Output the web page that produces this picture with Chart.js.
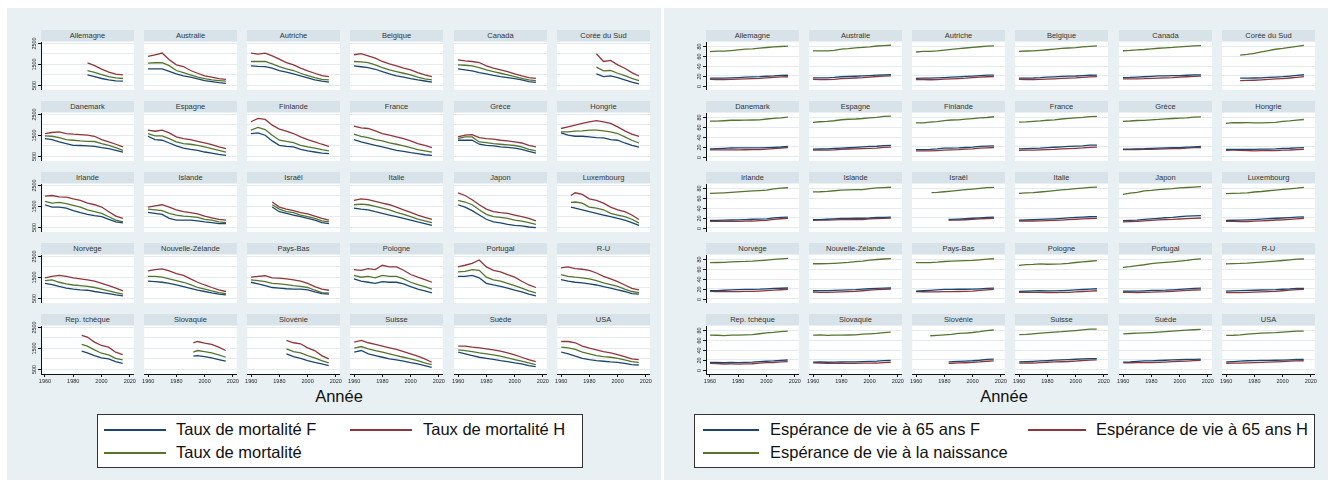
<!DOCTYPE html>
<html>
<head>
<meta charset="utf-8">
<script src="https://cdn.jsdelivr.net/npm/chart.js@4.4.1/dist/chart.umd.min.js"></script>
<style>
  html, body { margin: 0; padding: 0; background: #ffffff; width: 1335px; height: 485px; overflow: hidden;
    font-family: "Liberation Sans", Arial, Helvetica, sans-serif; }
  .bg { position: absolute; background: #e9f0f3; }
  .strip { position: absolute; background: #d8e3e9; color: #333; font-size: 7.5px; text-align: center;
    line-height: 11px; height: 11px; white-space: nowrap; overflow: hidden; }
  canvas { position: absolute; }
  .xtitle { position: absolute; font-size: 16.5px; line-height: 19px; color: #111; transform: translateX(-50%); white-space: nowrap; }
  .legend { position: absolute; background: #ffffff; border: 1px solid #333; box-sizing: border-box; }
  .key { position: absolute; height: 1.5px; }
  .lab { position: absolute; font-size: 16.5px; line-height: 19px; color: #111; white-space: nowrap; }
</style>
</head>
<body>
<script>
// ---------------------------------------------------------------------------
// Data: one small-multiple per country, values every five years (first value
// of a series sits at its start year when the series begins late).
// ---------------------------------------------------------------------------
const COUNTRIES = ['Allemagne', 'Australie', 'Autriche', 'Belgique', 'Canada', 'Corée du Sud',
  'Danemark', 'Espagne', 'Finlande', 'France', 'Grèce', 'Hongrie',
  'Irlande', 'Islande', 'Israël', 'Italie', 'Japon', 'Luxembourg',
  'Norvège', 'Nouvelle-Zélande', 'Pays-Bas', 'Pologne', 'Portugal', 'R-U',
  'Rep. tchèque', 'Slovaquie', 'Slovénie', 'Suisse', 'Suède', 'USA'];

const YEARS = [1960, 1965, 1970, 1975, 1980, 1985, 1990, 1995, 2000, 2005, 2010, 2015];
const X_TICKS = [1960, 1980, 2000, 2020];
const MORT_TICKS = [500, 1500, 2500];
const MORT_GRID = [500, 1000, 1500, 2000, 2500];
const LE_TICKS = [0, 20, 40, 60, 80];

// Mortality rates (per 100 000)
const MORT_START = [1990, 1960, 1960, 1960, 1960, 1985,
  1960, 1960, 1960, 1960, 1960, 1960,
  1960, 1960, 1975, 1960, 1960, 1967,
  1960, 1960, 1960, 1960, 1960, 1960,
  1986, 1992, 1985, 1960, 1960, 1960];

const MORT_F = [
  [980, 900, 810, 740, 700, 680],
  [1270, 1270, 1270, 1150, 1030, 930, 870, 790, 710, 660, 610, 580],
  [1410, 1390, 1380, 1300, 1190, 1110, 1030, 930, 840, 740, 680, 640],
  [1410, 1370, 1330, 1250, 1140, 1030, 930, 870, 800, 740, 690, 640],
  [1270, 1220, 1170, 1090, 1030, 960, 900, 850, 800, 740, 660, 630],
  [1030, 900, 930, 850, 740, 640, 550],
  [1330, 1280, 1170, 1090, 1010, 1000, 980, 960, 900, 850, 770, 680],
  [1440, 1280, 1250, 1120, 980, 880, 820, 770, 690, 640, 580, 530],
  [1570, 1600, 1490, 1220, 1010, 960, 930, 820, 740, 690, 640, 610],
  [1280, 1170, 1090, 1010, 930, 850, 770, 720, 660, 610, 560, 530],
  [1250, 1250, 1250, 1060, 1010, 980, 930, 910, 880, 820, 720, 640],
  [1600, 1490, 1440, 1440, 1410, 1380, 1360, 1280, 1250, 1120, 1010, 920],
  [1560, 1450, 1450, 1400, 1280, 1180, 1100, 1040, 990, 860, 740, 700],
  [1200, 1150, 1100, 910, 830, 830, 830, 790, 740, 710, 660, 660],
  [1450, 1230, 1150, 1070, 990, 910, 830, 710, 660],
  [1400, 1350, 1320, 1230, 1150, 1070, 990, 910, 830, 740, 660, 580],
  [1560, 1450, 1280, 1070, 870, 740, 700, 630, 580, 550, 500, 470],
  [1450, 1400, 1320, 1230, 1150, 1070, 990, 910, 830, 710, 580],
  [1200, 1140, 1050, 970, 920, 890, 870, 810, 760, 710, 650, 600],
  [1300, 1280, 1250, 1200, 1120, 1040, 960, 870, 810, 740, 680, 650],
  [1250, 1170, 1090, 1000, 970, 940, 920, 920, 890, 790, 710, 680],
  [1410, 1300, 1250, 1200, 1280, 1250, 1250, 1170, 1040, 920, 840, 740],
  [1530, 1530, 1580, 1460, 1200, 1120, 1050, 970, 870, 790, 680, 600],
  [1380, 1300, 1250, 1220, 1170, 1120, 1040, 970, 890, 810, 710, 680],
  [1350, 1270, 1140, 1030, 980, 850, 770],
  [1110, 1140, 1090, 1030, 950, 870],
  [1220, 1090, 1010, 900, 820, 740, 660],
  [1300, 1380, 1220, 1140, 1060, 980, 930, 870, 800, 740, 660, 580],
  [1300, 1220, 1140, 1060, 1010, 960, 900, 850, 790, 740, 660, 610],
  [1300, 1220, 1110, 1010, 950, 900, 870, 840, 820, 770, 710, 690]
];

const MORT_H = [
  [1550, 1420, 1260, 1110, 1020, 980],
  [1860, 1940, 2020, 1700, 1460, 1380, 1190, 1060, 930, 870, 800, 770],
  [2020, 1970, 2020, 1890, 1730, 1570, 1460, 1300, 1170, 1060, 950, 900],
  [1940, 1990, 1890, 1780, 1620, 1510, 1410, 1300, 1220, 1090, 980, 900],
  [1700, 1650, 1620, 1570, 1410, 1300, 1220, 1140, 1030, 930, 850, 820],
  [1990, 1620, 1670, 1460, 1300, 1090, 930],
  [1570, 1620, 1650, 1570, 1540, 1520, 1490, 1440, 1280, 1170, 1060, 930],
  [1730, 1680, 1730, 1600, 1410, 1330, 1280, 1200, 1120, 1040, 930, 850],
  [2130, 2290, 2240, 1970, 1780, 1680, 1570, 1410, 1280, 1170, 1060, 960],
  [1920, 1840, 1810, 1700, 1570, 1490, 1410, 1330, 1220, 1090, 1010, 900],
  [1410, 1490, 1520, 1380, 1330, 1300, 1250, 1220, 1170, 1120, 1010, 930],
  [1810, 1890, 1970, 2050, 2130, 2180, 2130, 2050, 1890, 1700, 1540, 1440],
  [1970, 2000, 1930, 1920, 1840, 1770, 1640, 1560, 1450, 1230, 1020, 910],
  [1450, 1510, 1560, 1450, 1320, 1230, 1180, 1120, 1020, 940, 860, 830],
  [1690, 1450, 1350, 1280, 1180, 1120, 1020, 910, 830],
  [1770, 1840, 1800, 1720, 1640, 1560, 1450, 1320, 1200, 1070, 960, 860],
  [2130, 2000, 1800, 1560, 1350, 1230, 1180, 1150, 1070, 990, 910, 790],
  [2000, 2130, 2050, 1840, 1770, 1640, 1450, 1320, 1230, 1070, 860],
  [1460, 1530, 1580, 1530, 1460, 1410, 1360, 1300, 1200, 1090, 970, 840],
  [1790, 1850, 1890, 1790, 1660, 1580, 1410, 1250, 1120, 1000, 890, 810],
  [1490, 1530, 1560, 1460, 1450, 1410, 1360, 1300, 1200, 1040, 920, 870],
  [1850, 1820, 1900, 1850, 2060, 1980, 1980, 1820, 1620, 1490, 1380, 1250],
  [1980, 2060, 2150, 2310, 1980, 1820, 1740, 1610, 1490, 1300, 1120, 1000],
  [1930, 1980, 1900, 1870, 1820, 1690, 1530, 1410, 1280, 1120, 960, 890],
  [2100, 2020, 1780, 1620, 1540, 1300, 1190],
  [1750, 1810, 1730, 1670, 1540, 1380],
  [1860, 1750, 1700, 1510, 1380, 1140, 980],
  [1780, 1860, 1750, 1670, 1590, 1510, 1430, 1330, 1220, 1110, 980, 820],
  [1590, 1590, 1540, 1510, 1460, 1410, 1350, 1270, 1170, 1060, 950, 850],
  [1810, 1810, 1750, 1590, 1490, 1410, 1330, 1270, 1190, 1090, 980, 950]
];

const MORT_T = [
  [1190, 1100, 990, 900, 840, 810],
  [1540, 1560, 1570, 1420, 1190, 1090, 980, 880, 800, 740, 710, 680],
  [1620, 1620, 1620, 1510, 1380, 1270, 1190, 1060, 950, 850, 770, 740],
  [1620, 1600, 1570, 1460, 1330, 1220, 1140, 1060, 980, 870, 790, 740],
  [1460, 1440, 1410, 1330, 1220, 1140, 1060, 980, 900, 820, 740, 710],
  [1350, 1170, 1190, 1060, 950, 820, 710],
  [1460, 1440, 1380, 1280, 1250, 1220, 1200, 1190, 1090, 1010, 900, 770],
  [1570, 1460, 1460, 1330, 1170, 1090, 1060, 1010, 930, 850, 770, 690],
  [1730, 1860, 1760, 1490, 1250, 1200, 1140, 1010, 930, 870, 800, 740],
  [1540, 1440, 1380, 1280, 1220, 1120, 1060, 980, 900, 800, 740, 680],
  [1330, 1410, 1410, 1170, 1140, 1090, 1060, 1030, 1000, 930, 820, 740],
  [1650, 1650, 1680, 1700, 1730, 1730, 1700, 1650, 1570, 1410, 1250, 1120],
  [1720, 1640, 1670, 1610, 1530, 1450, 1320, 1230, 1150, 990, 830, 740],
  [1350, 1320, 1280, 1150, 1070, 1020, 990, 960, 860, 830, 740, 710],
  [1560, 1350, 1230, 1180, 1070, 990, 910, 790, 740],
  [1560, 1590, 1560, 1480, 1400, 1320, 1200, 1100, 990, 870, 790, 710],
  [1770, 1690, 1560, 1320, 1100, 990, 960, 910, 830, 780, 710, 630],
  [1670, 1690, 1640, 1450, 1400, 1320, 1150, 1070, 990, 870, 700],
  [1330, 1360, 1250, 1170, 1120, 1090, 1050, 1000, 920, 840, 760, 680],
  [1530, 1530, 1490, 1410, 1330, 1250, 1140, 1000, 920, 840, 760, 710],
  [1360, 1330, 1280, 1200, 1170, 1140, 1090, 1050, 1000, 870, 760, 730],
  [1580, 1490, 1530, 1460, 1580, 1530, 1530, 1410, 1250, 1140, 1040, 920],
  [1740, 1770, 1850, 1820, 1490, 1360, 1300, 1200, 1090, 970, 840, 740],
  [1610, 1530, 1490, 1460, 1410, 1330, 1220, 1140, 1050, 920, 810, 760],
  [1670, 1590, 1410, 1250, 1170, 1010, 930],
  [1300, 1380, 1330, 1270, 1170, 1060],
  [1460, 1330, 1270, 1140, 1030, 900, 790],
  [1490, 1570, 1460, 1380, 1300, 1220, 1140, 1060, 980, 900, 790, 710],
  [1410, 1380, 1330, 1270, 1220, 1170, 1110, 1030, 950, 870, 790, 710],
  [1540, 1510, 1430, 1300, 1220, 1140, 1090, 1060, 1010, 930, 850, 820]
];

// Life expectancy (years)
const LE_BIRTH_START = [1960, 1960, 1960, 1960, 1960, 1970,
  1960, 1960, 1960, 1960, 1960, 1960,
  1960, 1960, 1971, 1960, 1960, 1960,
  1960, 1960, 1960, 1960, 1960, 1960,
  1960, 1960, 1970, 1960, 1960, 1960];
const LE_65_START = [1960, 1960, 1960, 1960, 1960, 1970,
  1960, 1960, 1960, 1960, 1960, 1960,
  1960, 1960, 1983, 1960, 1960, 1960,
  1960, 1960, 1960, 1960, 1960, 1960,
  1960, 1960, 1983, 1960, 1960, 1960];

const LE_F = [
  [15.0, 15.2, 15.3, 15.7, 16.3, 17.0, 17.7, 18.1, 19.0, 19.6, 20.6, 21.0],
  [15.7, 15.7, 15.7, 16.5, 18.0, 18.5, 19.0, 19.6, 20.4, 21.3, 21.9, 22.3],
  [14.7, 15.0, 15.0, 15.7, 16.3, 17.1, 17.8, 18.7, 19.4, 20.4, 21.1, 21.4],
  [15.0, 15.3, 15.4, 16.0, 17.0, 17.7, 18.6, 19.2, 19.5, 20.3, 21.0, 21.4],
  [16.1, 16.5, 17.3, 18.0, 18.9, 19.6, 19.9, 20.1, 20.4, 21.0, 21.7, 22.0],
  [15.0, 15.0, 15.4, 15.7, 16.5, 17.4, 18.2, 19.4, 20.8, 22.1],
  [15.6, 16.0, 16.7, 17.5, 17.6, 17.8, 17.8, 17.7, 18.3, 18.9, 19.5, 20.5],
  [15.3, 15.6, 15.7, 16.4, 17.1, 18.0, 18.8, 19.6, 20.6, 21.0, 22.4, 22.7],
  [14.0, 14.2, 14.5, 15.5, 17.0, 17.3, 17.7, 18.5, 19.3, 20.7, 21.3, 21.8],
  [15.6, 16.3, 16.8, 17.3, 18.3, 19.0, 19.9, 20.6, 21.4, 22.0, 23.2, 23.3],
  [15.2, 15.2, 15.8, 16.0, 16.8, 17.2, 17.7, 18.2, 18.4, 19.1, 19.8, 20.5],
  [14.5, 14.7, 14.6, 14.7, 14.6, 15.0, 15.3, 15.6, 16.5, 16.9, 17.8, 18.4],
  [14.5, 14.6, 15.0, 15.4, 15.6, 16.2, 16.9, 17.3, 17.9, 19.8, 20.9, 21.3],
  [16.0, 16.3, 16.9, 17.6, 18.6, 18.9, 19.0, 19.0, 19.5, 20.5, 20.7, 21.2],
  [16.5, 16.5, 17.3, 18.3, 19.0, 19.9, 20.8, 21.2],
  [15.3, 15.7, 16.0, 16.6, 17.1, 17.8, 18.8, 19.8, 20.7, 21.3, 22.1, 22.2],
  [14.1, 14.6, 15.3, 16.6, 17.7, 18.9, 20.0, 20.9, 22.4, 23.2, 23.8, 24.2],
  [14.6, 14.9, 15.1, 15.6, 16.3, 17.2, 18.1, 19.0, 19.5, 20.2, 21.1, 21.7],
  [15.9, 16.3, 16.9, 17.6, 18.3, 18.6, 18.8, 19.1, 19.8, 20.6, 21.0, 21.6],
  [15.9, 16.0, 16.1, 16.6, 17.2, 17.9, 18.3, 19.1, 20.0, 20.8, 21.4, 21.6],
  [15.3, 15.9, 16.6, 17.6, 18.6, 18.8, 19.0, 19.0, 19.1, 19.9, 20.9, 21.1],
  [14.6, 15.3, 15.6, 15.9, 15.8, 15.8, 16.1, 16.7, 17.6, 18.5, 19.3, 20.0],
  [15.2, 15.3, 15.1, 15.8, 16.6, 16.8, 17.0, 17.9, 18.7, 19.6, 20.7, 21.5],
  [15.1, 15.5, 16.0, 16.5, 16.9, 17.4, 17.9, 18.2, 19.0, 19.6, 20.8, 20.9],
  [14.7, 14.5, 14.1, 14.5, 14.3, 14.7, 15.2, 16.1, 16.9, 17.6, 18.8, 19.5],
  [15.3, 15.5, 14.9, 15.3, 15.4, 15.6, 15.8, 16.3, 16.6, 17.1, 18.2, 18.7],
  [15.8, 15.9, 16.7, 17.4, 18.0, 19.0, 20.6, 21.3],
  [15.5, 15.9, 16.6, 17.5, 18.4, 19.2, 19.7, 20.3, 21.0, 21.8, 22.5, 22.5],
  [15.3, 15.8, 16.8, 17.6, 17.9, 18.5, 19.0, 19.6, 20.0, 20.6, 20.9, 21.2],
  [15.8, 16.3, 17.0, 18.0, 18.3, 18.6, 18.9, 19.0, 19.2, 19.8, 20.5, 20.6]
];

const LE_H = [
  [12.5, 12.3, 12.1, 12.5, 13.0, 13.5, 14.0, 14.6, 15.7, 16.8, 17.7, 18.0],
  [12.5, 12.2, 12.0, 12.7, 14.0, 14.7, 15.4, 16.0, 17.3, 18.5, 19.2, 19.7],
  [12.0, 12.0, 11.8, 12.1, 13.0, 13.7, 14.3, 15.1, 16.3, 17.2, 18.0, 18.4],
  [12.4, 12.3, 12.1, 12.6, 13.3, 13.8, 14.6, 15.2, 15.8, 16.8, 17.8, 18.3],
  [13.6, 13.6, 13.8, 14.0, 14.6, 15.1, 15.6, 16.1, 17.1, 18.0, 18.8, 19.4],
  [10.2, 10.4, 10.8, 11.5, 12.4, 13.5, 14.3, 15.4, 16.8, 18.2],
  [13.7, 13.7, 13.7, 13.7, 13.6, 13.9, 14.0, 14.1, 15.2, 16.1, 17.3, 18.3],
  [13.1, 13.3, 13.2, 13.6, 14.6, 15.4, 15.5, 16.0, 16.7, 17.3, 18.6, 19.2],
  [11.5, 11.6, 11.7, 12.2, 13.0, 13.6, 14.1, 15.0, 15.5, 17.0, 17.6, 18.5],
  [12.5, 13.0, 13.0, 13.5, 14.2, 14.6, 15.6, 16.1, 16.7, 17.6, 18.9, 19.4],
  [14.1, 14.2, 14.4, 14.5, 14.6, 15.2, 15.7, 16.2, 16.3, 17.1, 18.1, 18.5],
  [12.8, 12.9, 12.7, 12.3, 11.6, 11.9, 12.0, 12.1, 13.1, 13.4, 14.2, 14.8],
  [12.6, 12.5, 12.4, 12.5, 12.6, 13.0, 13.3, 14.0, 14.6, 16.8, 18.0, 18.8],
  [14.7, 15.2, 15.0, 15.5, 16.1, 16.2, 16.5, 16.4, 17.7, 18.4, 18.8, 19.2],
  [14.8, 15.0, 15.4, 15.9, 16.7, 17.6, 18.5, 19.0],
  [13.4, 13.4, 13.3, 13.6, 14.0, 14.5, 15.3, 16.0, 16.9, 17.6, 18.4, 18.9],
  [11.6, 11.9, 12.5, 13.7, 14.6, 15.5, 16.2, 16.5, 17.5, 18.1, 18.7, 19.5],
  [12.6, 12.4, 12.0, 12.3, 12.9, 13.6, 14.4, 15.4, 15.6, 16.6, 17.7, 19.0],
  [14.6, 14.4, 14.0, 14.2, 14.3, 14.5, 14.7, 15.3, 16.1, 17.1, 18.0, 18.9],
  [13.0, 12.6, 12.6, 13.0, 13.6, 14.2, 14.8, 15.9, 17.3, 18.3, 18.9, 19.4],
  [14.0, 13.9, 13.7, 13.8, 14.0, 14.2, 14.4, 14.7, 15.3, 16.5, 17.8, 18.6],
  [12.6, 12.8, 12.4, 12.6, 12.3, 12.1, 12.4, 12.7, 13.6, 14.4, 15.1, 15.9],
  [12.8, 12.8, 12.0, 12.7, 13.1, 13.8, 14.0, 14.7, 15.7, 16.6, 17.4, 17.8],
  [11.9, 12.0, 12.0, 12.4, 12.9, 13.5, 14.1, 14.8, 15.9, 17.0, 18.4, 18.8],
  [12.5, 12.3, 11.3, 11.4, 11.2, 11.6, 11.8, 12.9, 14.0, 14.4, 15.5, 16.2],
  [13.5, 13.4, 12.8, 12.7, 12.4, 12.5, 12.4, 12.9, 13.1, 13.3, 14.3, 14.9],
  [12.5, 12.6, 13.4, 13.9, 14.5, 15.5, 16.9, 17.6],
  [12.9, 13.1, 13.3, 14.0, 14.9, 15.5, 15.9, 16.4, 17.3, 18.5, 19.2, 19.8],
  [13.7, 13.9, 14.2, 14.2, 14.3, 14.8, 15.3, 16.0, 16.7, 17.4, 18.3, 19.0],
  [12.8, 12.9, 13.0, 13.7, 14.2, 14.5, 15.1, 15.6, 16.3, 17.1, 17.8, 18.0]
];

const LE_T = [
  [69.5, 70.3, 70.6, 71.6, 72.9, 74.4, 75.3, 76.6, 77.9, 79.0, 80.0, 80.7],
  [70.9, 71.0, 71.0, 72.0, 74.6, 75.6, 77.0, 78.0, 79.3, 81.0, 81.8, 82.5],
  [68.7, 69.9, 70.1, 70.8, 72.6, 74.1, 75.6, 76.9, 78.2, 79.5, 80.7, 81.3],
  [69.8, 70.7, 71.0, 72.0, 73.3, 74.5, 76.0, 76.9, 77.7, 79.0, 80.3, 81.1],
  [71.3, 71.9, 72.9, 73.8, 75.3, 76.4, 77.3, 78.0, 79.3, 80.3, 81.2, 81.9],
  [62.3, 63.8, 66.1, 68.8, 71.7, 74.3, 76.0, 78.2, 80.2, 82.2],
  [72.4, 72.4, 73.3, 74.3, 74.3, 74.6, 74.9, 75.3, 76.9, 78.3, 79.3, 80.8],
  [69.8, 71.3, 72.0, 73.3, 75.4, 76.4, 76.9, 77.9, 79.3, 80.3, 82.1, 82.9],
  [68.8, 69.0, 70.5, 71.6, 73.6, 74.8, 75.0, 76.6, 77.7, 79.0, 80.0, 81.5],
  [70.3, 71.0, 72.2, 73.0, 74.3, 75.3, 76.9, 78.0, 79.2, 80.3, 81.8, 82.4],
  [72.2, 72.8, 73.8, 74.0, 75.3, 76.0, 77.1, 77.9, 78.6, 79.4, 80.7, 81.1],
  [68.0, 69.5, 69.2, 69.3, 69.1, 69.1, 69.4, 70.0, 71.9, 73.0, 74.7, 75.9],
  [69.8, 70.5, 71.2, 72.0, 72.9, 73.9, 74.9, 75.6, 76.6, 79.2, 80.8, 81.5],
  [73.0, 73.3, 74.0, 75.4, 76.7, 77.1, 77.8, 77.5, 79.7, 81.2, 81.9, 82.5],
  [71.6, 71.9, 73.3, 74.8, 76.1, 77.5, 78.9, 80.2, 81.6, 82.1],
  [69.8, 70.8, 71.6, 72.8, 74.0, 75.5, 77.1, 78.2, 79.9, 80.9, 82.1, 82.6],
  [67.8, 70.3, 72.0, 75.2, 76.1, 77.6, 78.9, 79.6, 81.2, 82.0, 82.9, 83.9],
  [69.4, 70.0, 70.3, 71.0, 72.8, 73.8, 75.4, 76.7, 78.0, 79.4, 80.7, 82.4],
  [73.6, 73.8, 74.2, 74.9, 75.8, 76.0, 76.7, 77.8, 78.8, 80.1, 81.2, 82.4],
  [71.3, 71.3, 71.5, 72.2, 73.2, 74.1, 75.5, 76.8, 78.6, 80.0, 81.0, 81.7],
  [73.5, 73.7, 73.7, 74.6, 75.9, 76.5, 77.0, 77.5, 78.0, 79.4, 80.9, 81.5],
  [67.8, 69.6, 70.0, 70.9, 70.2, 70.5, 70.9, 71.9, 73.8, 75.0, 76.4, 77.6],
  [63.9, 65.4, 67.5, 69.2, 71.4, 72.9, 74.1, 75.3, 76.7, 78.1, 80.1, 81.3],
  [71.1, 71.6, 71.9, 72.6, 73.7, 74.6, 75.7, 76.7, 77.9, 79.1, 80.6, 81.0],
  [70.6, 70.2, 69.6, 70.5, 70.4, 71.1, 71.5, 73.3, 75.1, 76.1, 77.7, 78.7],
  [70.6, 71.0, 70.0, 70.6, 70.4, 70.8, 71.0, 72.4, 73.2, 74.0, 75.6, 76.7],
  [69.2, 70.0, 71.0, 72.0, 73.9, 74.8, 75.9, 77.5, 79.8, 81.0],
  [71.4, 72.0, 73.1, 74.5, 75.7, 76.8, 77.5, 78.7, 79.9, 81.3, 82.6, 82.9],
  [73.1, 73.8, 74.7, 75.2, 75.8, 76.7, 77.7, 78.8, 79.7, 80.6, 81.5, 82.2],
  [69.9, 70.2, 70.9, 72.6, 73.7, 74.7, 75.3, 75.7, 76.7, 77.6, 78.7, 78.8]
];

const MORT_LEGEND = ['Taux de mortalité F', 'Taux de mortalité H', 'Taux de mortalité'];
const LE_LEGEND = ['Espérance de vie à 65 ans F', 'Espérance de vie à 65 ans H', 'Espérance de vie à la naissance'];
const X_TITLE = 'Année';

// ---------------------------------------------------------------------------
// Styling and layout
// ---------------------------------------------------------------------------
const COL_F = '#1a476f';   // navy
const COL_H = '#90353b';   // maroon
const COL_T = '#55752f';   // forest green
const GRID_COL = '#e3ebef';
const AXIS_COL = '#111111';
const FONT = '"Liberation Sans", Arial, Helvetica, sans-serif';

const ROW_Y = [30, 101, 172, 243, 314];
const LEFT_COL_X = [41, 144, 247, 350, 454, 557];
const RIGHT_COL_X = [706, 809, 912, 1015, 1119, 1222];
const PANEL_W = 93, STRIP_H = 11, PLOT_H = 48;
const SIDE_PAD = 3, YAXIS_W = 14, XAXIS_H = 12, TOP_PAD = 9;

function el(cls, css, text) {
  const d = document.createElement('div');
  d.className = cls;
  Object.assign(d.style, css);
  if (text !== undefined) d.textContent = text;
  document.body.appendChild(d);
  return d;
}

// Build {x,y} points: first value at the series' start year, then the five-year grid.
function series(start, vals) {
  const yrs = [start].concat(YEARS.filter(y => y > start));
  return vals.map((v, i) => ({ x: yrs[i], y: v }));
}

// White plot area behind grid and lines
const plotBg = {
  id: 'plotBg',
  beforeDraw(chart) {
    const a = chart.chartArea, c = chart.ctx;
    c.save();
    c.fillStyle = '#ffffff';
    c.fillRect(a.left, a.top, a.right - a.left, a.bottom - a.top);
    c.restore();
  }
};

// Rotated y tick labels on the first column (values read through the y scale)
const yLabels = {
  id: 'yLabels',
  afterDraw(chart, args, opts) {
    if (!opts.show) return;
    const s = chart.scales.y, a = chart.chartArea, c = chart.ctx;
    c.save();
    c.strokeStyle = AXIS_COL;
    c.fillStyle = '#222';
    c.lineWidth = 1;
    c.font = '5.5px ' + FONT;
    c.textAlign = 'center';
    c.textBaseline = 'middle';
    opts.ticks.forEach(v => {
      const py = Math.round(s.getPixelForValue(v)) + 0.5;
      c.beginPath();
      c.moveTo(a.left - 3, py);
      c.lineTo(a.left, py);
      c.stroke();
      c.save();
      c.translate(a.left - 7, py);
      c.rotate(-Math.PI / 2);
      c.fillText(String(v), 0, 0);
      c.restore();
    });
    c.restore();
  }
};

function makePanel(x, y, title, firstCol, lastRow, yCfg, datasets) {
  el('strip', { left: x + 'px', top: y + 'px', width: PANEL_W + 'px' }, title);
  const padL = SIDE_PAD + (firstCol ? YAXIS_W : 0);
  const padT = firstCol ? TOP_PAD : 0;
  const padB = lastRow ? XAXIS_H : 0;
  const cv = document.createElement('canvas');
  const w = PANEL_W + padL + SIDE_PAD, h = PLOT_H + padB + padT;
  cv.width = w; cv.height = h;
  cv.style.left = (x - padL) + 'px';
  cv.style.top = (y + STRIP_H + 1 - padT) + 'px';
  cv.style.width = w + 'px'; cv.style.height = h + 'px';
  document.body.appendChild(cv);

  new Chart(cv, {
    type: 'line',
    data: { datasets },
    options: {
      responsive: false, animation: false, devicePixelRatio: 1,
      layout: { padding: { left: SIDE_PAD, right: SIDE_PAD, top: padT, bottom: 0 } },
      elements: { point: { radius: 0 }, line: { borderWidth: 1.3, tension: 0 } },
      plugins: {
        legend: { display: false }, tooltip: { enabled: false },
        yLabels: { show: firstCol, ticks: yCfg.ticks }
      },
      scales: {
        x: {
          type: 'linear', min: 1957.2, max: 2022.8, display: lastRow,
          afterBuildTicks: s => { s.ticks = X_TICKS.map(v => ({ value: v })); },
          afterFit: s => { s.height = lastRow ? XAXIS_H : 0; },
          ticks: { font: { size: 5.5, family: FONT }, color: '#222', padding: 1, maxRotation: 0, minRotation: 0, autoSkip: false,
                   callback: v => String(v) },
          grid: { display: true, drawOnChartArea: false, drawTicks: true, tickLength: 3, tickColor: AXIS_COL },
          border: { display: true, color: AXIS_COL, width: 1 }
        },
        y: {
          type: 'linear', min: yCfg.min, max: yCfg.max,
          afterBuildTicks: s => { s.ticks = yCfg.grid.map(v => ({ value: v })); },
          afterFit: s => { s.width = firstCol ? YAXIS_W : 0; },
          ticks: { display: false },
          grid: { color: GRID_COL, lineWidth: 1, drawTicks: false },
          border: { display: firstCol, color: AXIS_COL, width: 1 }
        }
      }
    },
    plugins: [plotBg, yLabels]
  });
}

function line(data, color) {
  return { data, borderColor: color, backgroundColor: color, fill: false, spanGaps: true };
}

// Background regions of both graphs
el('bg', { left: '7px', top: '8px', width: '654px', height: '472px' });
el('bg', { left: '664px', top: '8px', width: '664px', height: '472px' });

const MORT_Y = { min: 262, max: 2548, grid: MORT_GRID, ticks: MORT_TICKS };
const LE_Y = { min: -9.2, max: 89.2, grid: LE_TICKS, ticks: LE_TICKS };

COUNTRIES.forEach((name, i) => {
  const r = Math.floor(i / 6), c = i % 6;
  const firstCol = c === 0, lastRow = r === 4;
  makePanel(LEFT_COL_X[c], ROW_Y[r], name, firstCol, lastRow, MORT_Y, [
    line(series(MORT_START[i], MORT_F[i]), COL_F),
    line(series(MORT_START[i], MORT_H[i]), COL_H),
    line(series(MORT_START[i], MORT_T[i]), COL_T)
  ]);
  makePanel(RIGHT_COL_X[c], ROW_Y[r], name, firstCol, lastRow, LE_Y, [
    line(series(LE_65_START[i], LE_F[i]), COL_F),
    line(series(LE_65_START[i], LE_H[i]), COL_H),
    line(series(LE_BIRTH_START[i], LE_T[i]), COL_T)
  ]);
});

// Axis titles
el('xtitle', { left: '339px', top: '387px' }, X_TITLE);
el('xtitle', { left: '1004px', top: '387px' }, X_TITLE);

// Legends
function legend(box, entries, labels) {
  el('legend', { left: box[0] + 'px', top: box[1] + 'px', width: box[2] + 'px', height: box[3] + 'px' });
  const cols = [COL_F, COL_H, COL_T];
  entries.forEach((e, k) => {
    el('key', { left: e[0] + 'px', top: (e[2] - 0.75) + 'px', width: e[1] + 'px', background: cols[k] });
    el('lab', { left: e[3] + 'px', top: (e[2] - 10) + 'px' }, labels[k]);
  });
}
legend([97, 414, 486, 54], [[104, 62, 430, 176], [350, 62, 430, 423], [104, 62, 453, 176]], MORT_LEGEND);
legend([694, 414, 621, 54], [[703, 56, 430, 770], [1028, 58, 430, 1096], [703, 56, 453, 770]], LE_LEGEND);
</script>
</body>
</html>
